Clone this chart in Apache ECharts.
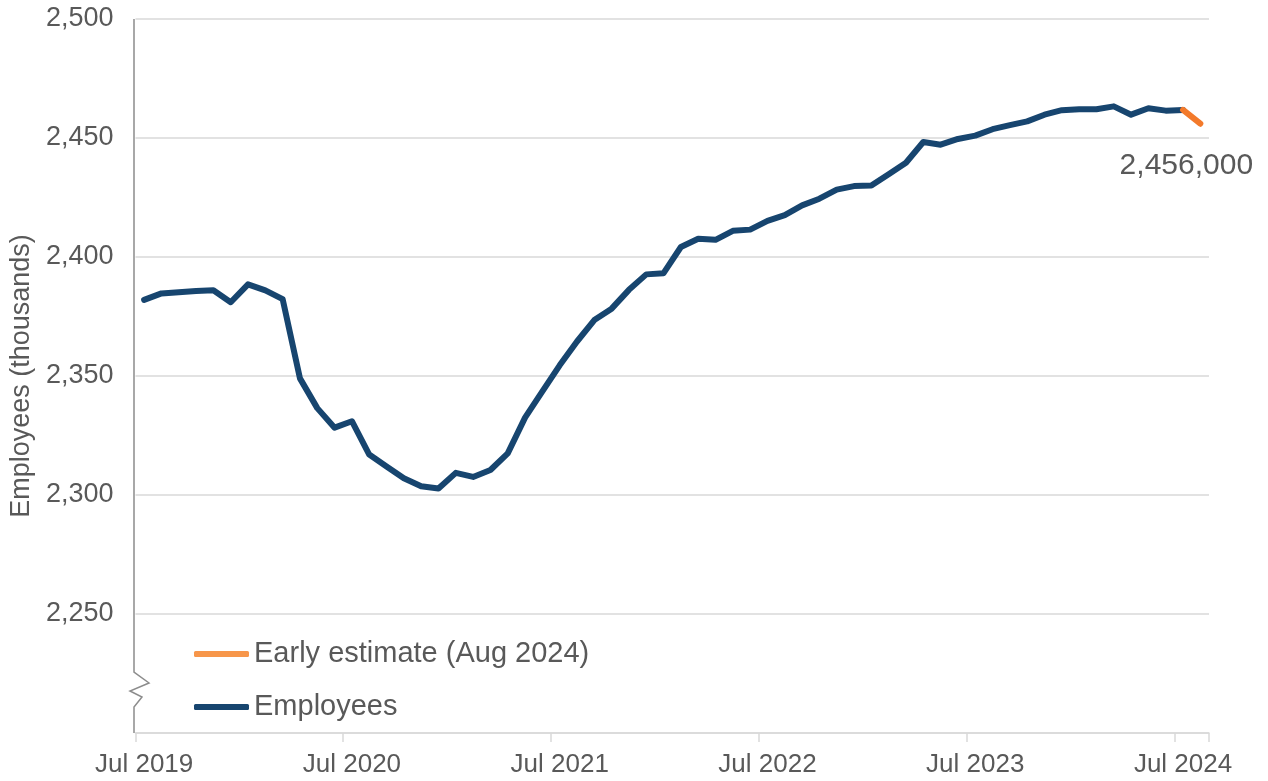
<!DOCTYPE html>
<html>
<head>
<meta charset="utf-8">
<script src="https://cdn.jsdelivr.net/npm/echarts@6/dist/echarts.min.js"></script>
<style>
html,body{margin:0;padding:0;background:#fff;}
#chart{width:1268px;height:781px;}
</style>
</head>
<body>
<div id="chart"></div>
<script>
const categories = [
  'Jul 2019','Aug 2019','Sep 2019','Oct 2019','Nov 2019','Dec 2019',
  'Jan 2020','Feb 2020','Mar 2020','Apr 2020','May 2020','Jun 2020',
  'Jul 2020','Aug 2020','Sep 2020','Oct 2020','Nov 2020','Dec 2020',
  'Jan 2021','Feb 2021','Mar 2021','Apr 2021','May 2021','Jun 2021',
  'Jul 2021','Aug 2021','Sep 2021','Oct 2021','Nov 2021','Dec 2021',
  'Jan 2022','Feb 2022','Mar 2022','Apr 2022','May 2022','Jun 2022',
  'Jul 2022','Aug 2022','Sep 2022','Oct 2022','Nov 2022','Dec 2022',
  'Jan 2023','Feb 2023','Mar 2023','Apr 2023','May 2023','Jun 2023',
  'Jul 2023','Aug 2023','Sep 2023','Oct 2023','Nov 2023','Dec 2023',
  'Jan 2024','Feb 2024','Mar 2024','Apr 2024','May 2024','Jun 2024',
  'Jul 2024','Aug 2024'
];

// Employees (thousands), Jul 2019 - Jul 2024
const employees = [
  2382, 2384.7, 2385.2, 2385.7, 2386, 2381, 2388.5, 2386, 2382.3, 2349,
  2336.5, 2328.3, 2331, 2317, 2312, 2307, 2303.7, 2302.7, 2309.3, 2307.6,
  2310.5, 2317.5, 2332.5, 2343.5, 2354.5, 2364.5, 2373.5, 2378.3, 2386.2, 2392.7,
  2393.2, 2404.2, 2407.7, 2407.2, 2411, 2411.5, 2415.2, 2417.6, 2421.7, 2424.5,
  2428.3, 2429.8, 2430, 2434.8, 2439.6, 2448.3, 2447.2, 2449.6, 2451, 2453.7,
  2455.4, 2457, 2459.8, 2461.7, 2462.1, 2462.1, 2463.3, 2459.8, 2462.5, 2461.5,
  2461.8, null
];

// Early estimate (Aug 2024), joined to the Jul 2024 value
const earlyEstimate = new Array(60).fill(null).concat([2461.8, 2456]);

const yMin = 2200, yMax = 2500, yStep = 50;
const seriesNames = ['Early estimate (Aug 2024)', 'Employees'];

const NAVY = '#17456F';
const ORANGE = '#F37A2B';
const ORANGE_LEGEND = '#F7964A';
const TEXT = '#595959';
const FONT = '"Liberation Sans", Arial, sans-serif';
const GRID_LEFT = 134;

const chart = echarts.init(document.getElementById('chart'), null, {renderer: 'canvas'});

const fmt = v => Math.round(v).toLocaleString('en-US');

chart.setOption({
  animation: false,
  backgroundColor: '#ffffff',
  textStyle: {fontFamily: FONT},
  grid: {left: GRID_LEFT, right: 59, top: 19, bottom: 48, containLabel: false},
  legend: {
    orient: 'vertical',
    left: 189,
    top: 634,
    itemWidth: 55,
    itemHeight: 6,
    itemGap: 23,
    textStyle: {fontSize: 29, color: TEXT, fontFamily: FONT, lineHeight: 30},
    data: [
      {name: seriesNames[0], icon: 'roundRect', itemStyle: {color: ORANGE_LEGEND, opacity: 1}},
      {name: seriesNames[1], icon: 'roundRect', itemStyle: {color: NAVY, opacity: 1}}
    ]
  },
  xAxis: {
    type: 'category',
    data: categories,
    boundaryGap: true,
    axisLine: {show: true, lineStyle: {color: '#D9D9D9', width: 1.5}},
    axisTick: {show: true, interval: 11, length: 9, lineStyle: {color: '#D9D9D9', width: 1.5}},
    axisLabel: {interval: 11, color: TEXT, fontSize: 26, fontFamily: FONT, margin: 19},
    splitLine: {show: false}
  },
  yAxis: {
    type: 'value',
    min: yMin,
    max: yMax,
    interval: yStep,
    name: 'Employees (thousands)',
    nameLocation: 'middle',
    nameGap: 99,
    nameRotate: 90,
    nameTextStyle: {fontSize: 27, color: TEXT, fontFamily: FONT},
    axisLine: {show: false},
    axisTick: {show: false},
    axisLabel: {
      color: TEXT, fontSize: 27, fontFamily: FONT, margin: 22,
      formatter: v => (v === yMin ? '' : fmt(v))
    },
    splitLine: {show: true, lineStyle: {color: '#D9D9D9', width: 1.5}}
  },
  series: [
    {
      name: seriesNames[0],
      type: 'line',
      data: earlyEstimate,
      symbol: 'circle',
      symbolSize: 2,
      showSymbol: true,
      showAllSymbol: true,
      connectNulls: false,
      z: 3,
      lineStyle: {color: ORANGE, width: 6, cap: 'round', join: 'round'},
      itemStyle: {color: ORANGE},
      label: {
        show: true,
        position: 'bottom',
        distance: 5,
        offset: [-14, 21],
        fontSize: 30,
        color: TEXT,
        fontFamily: FONT,
        formatter: p => (p.dataIndex === earlyEstimate.length - 1 ? fmt(p.value * 1000) : '')
      }
    },
    {
      name: seriesNames[1],
      type: 'line',
      data: employees,
      symbol: 'none',
      z: 2,
      lineStyle: {color: NAVY, width: 6, cap: 'round', join: 'round'},
      itemStyle: {color: NAVY}
    }
  ]
});

// Y axis line with a break zigzag near the bottom
const yTop = chart.convertToPixel({yAxisIndex: 0}, yMax);
const yBot = chart.convertToPixel({yAxisIndex: 0}, yMin);
const x = GRID_LEFT;
chart.setOption({
  graphic: [{
    type: 'polyline',
    z: 10,
    shape: {points: [
      [x, yTop], [x, yBot - 61], [x + 15, yBot - 50], [x - 4, yBot - 42],
      [x + 8, yBot - 36], [x, yBot - 26], [x, yBot]
    ]},
    style: {stroke: '#8C8C8C', lineWidth: 1.5, fill: null}
  }]
});
</script>
</body>
</html>
